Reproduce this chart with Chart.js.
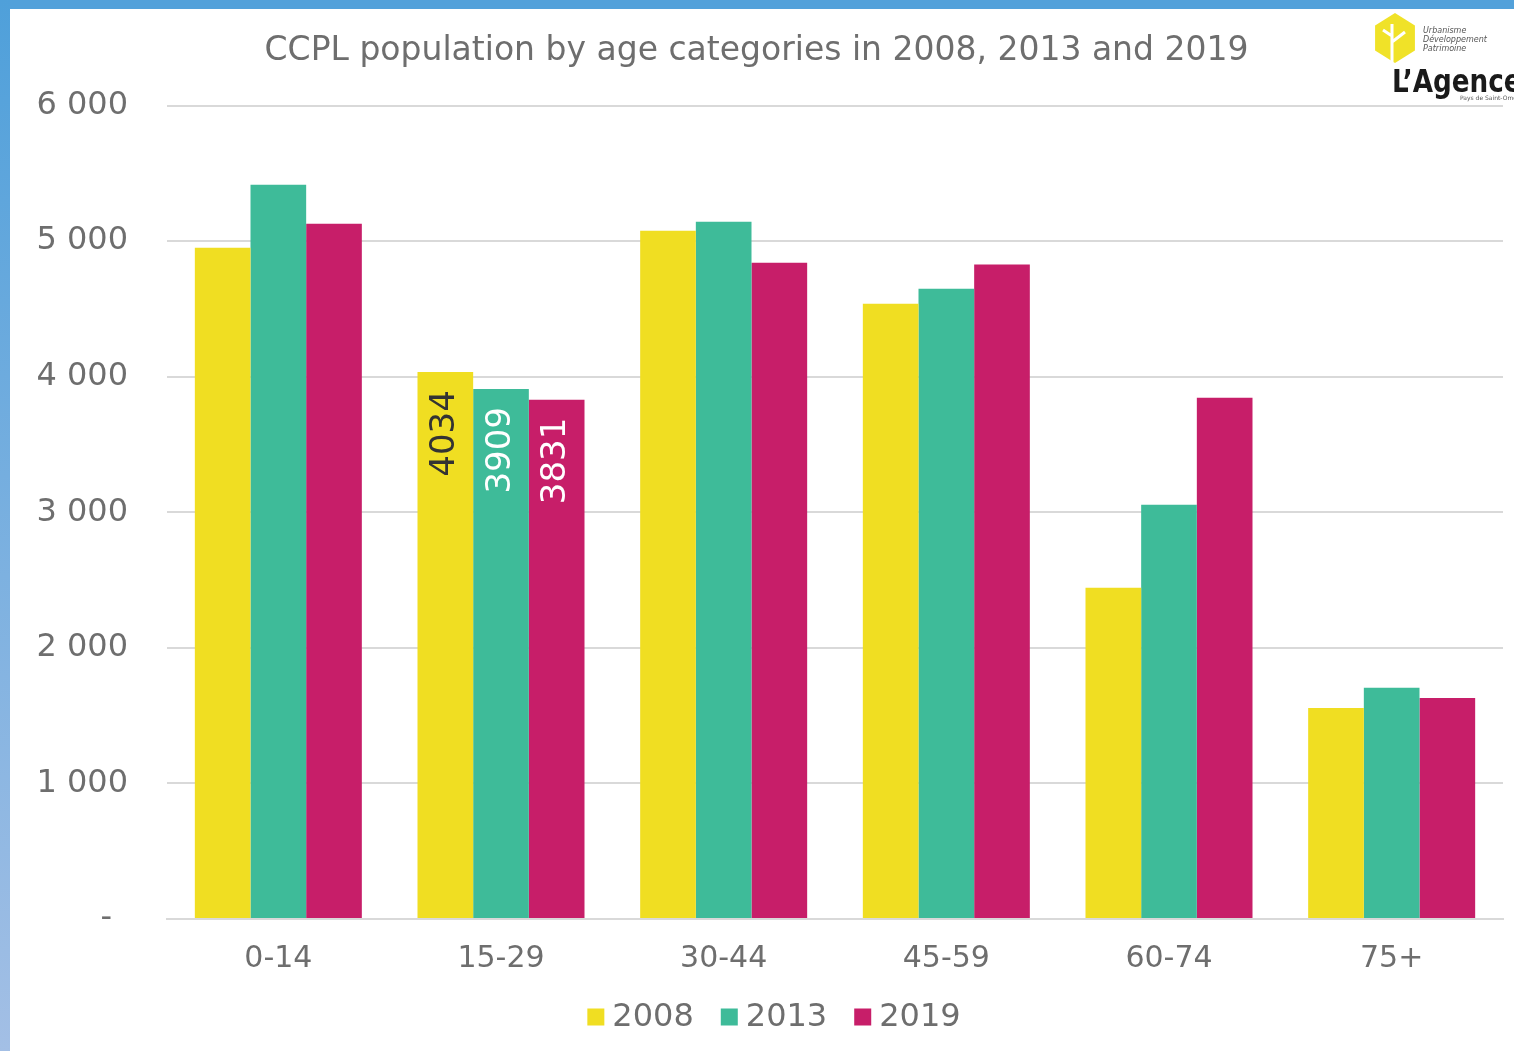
<!DOCTYPE html>
<html>
<head>
<meta charset="utf-8">
<script src="https://cdn.jsdelivr.net/npm/chart.js@4.4.1/dist/chart.umd.min.js"></script>
<style>
  html, body { margin: 0; padding: 0; }
  body { width: 1514px; height: 1051px; overflow: hidden; background: linear-gradient(#4fa0da, #a3bfe5); position: relative; }
  #wrap { position: absolute; left: 10px; top: 9px; width: 1504px; height: 1042px; background: #fff; }
  #wrap::before { content: ''; position: absolute; left: 0; top: -9px; width: 1504px; height: 9px; background: #53a1da; }
</style>
</head>
<body>
<div id="wrap"><canvas id="chart" width="1504" height="1042"></canvas></div>
<script>
const categories = ['0-14', '15-29', '30-44', '45-59', '60-74', '75+'];
const years = ['2008', '2013', '2019'];
const pop2008 = [4952, 4034, 5077, 4539, 2443, 1557];
const pop2013 = [5417, 3909, 5144, 4649, 3055, 1705];
const pop2019 = [5129, 3831, 4841, 4827, 3845, 1631];
const yTicks = [0, 1000, 2000, 3000, 4000, 5000, 6000];
const colors = ['#f0de22', '#3ebb99', '#c71e69'];
const labelColors = ['#333333', '#ffffff', '#ffffff'];
const labelledCategory = '15-29';

const fontFamily = '"DejaVu Sans", sans-serif';
const grey = '#6e6e6e';

// values written inside the bars of one category, rotated
const barLabels = {
  id: 'barLabels',
  afterDatasetsDraw(chart) {
    const ctx = chart.ctx;
    const idx = categories.indexOf(labelledCategory);
    chart.data.datasets.forEach((ds, i) => {
      const bar = chart.getDatasetMeta(i).data[idx];
      ctx.save();
      ctx.translate(bar.x, bar.y + 18);
      ctx.rotate(-Math.PI / 2);
      ctx.font = '34px ' + fontFamily;
      ctx.fillStyle = labelColors[i];
      ctx.textAlign = 'right';
      ctx.textBaseline = 'middle';
      ctx.fillText(String(ds.data[idx]), 0, 0);
      ctx.restore();
    });
  }
};

// legend under the axis, tighter than the built-in one
const bottomLegend = {
  id: 'bottomLegend',
  afterDraw(chart) {
    const ctx = chart.ctx;
    const box = 17, gap = 8, spacing = 27, y = 1008;
    ctx.save();
    ctx.font = '32px ' + fontFamily;
    ctx.textBaseline = 'middle';
    ctx.textAlign = 'left';
    const widths = chart.data.datasets.map(ds => ctx.measureText(ds.label).width);
    let total = 0;
    widths.forEach((w, i) => { total += box + gap + w + (i ? spacing : 0); });
    let x = chart.width / 2 + 12 - total / 2;
    chart.data.datasets.forEach((ds, i) => {
      ctx.fillStyle = ds.backgroundColor;
      ctx.fillRect(x, y - box / 2, box, box);
      ctx.fillStyle = grey;
      ctx.fillText(ds.label, x + box + gap, y + 1);
      x += box + gap + widths[i] + spacing;
    });
    ctx.restore();
  }
};

// small logo in the top right corner
const logo = {
  id: 'logo',
  afterDraw(chart) {
    const ctx = chart.ctx;
    ctx.save();
    const cx = 1385, cy = 29, r = 25;
    ctx.beginPath();
    for (let k = 0; k < 6; k++) {
      const a = -Math.PI / 2 + k * Math.PI / 3;
      const px = cx + r * 0.92 * Math.cos(a);
      const py = cy + r * Math.sin(a);
      if (k === 0) ctx.moveTo(px, py); else ctx.lineTo(px, py);
    }
    ctx.closePath();
    ctx.fillStyle = '#f0e228';
    ctx.fill();
    ctx.strokeStyle = '#fff';
    ctx.lineWidth = 3;
    ctx.beginPath();
    ctx.moveTo(cx - 3, cy + 24); ctx.lineTo(cx - 3, cy - 14);
    ctx.moveTo(cx - 3, cy + 4); ctx.lineTo(cx + 10, cy - 6);
    ctx.moveTo(cx - 3, cy - 2); ctx.lineTo(cx - 12, cy - 8);
    ctx.stroke();
    ctx.fillStyle = '#555';
    ctx.font = 'italic 8px ' + fontFamily;
    ctx.textAlign = 'left';
    ctx.fillText('Urbanisme', 1413, 24);
    ctx.fillText('Développement', 1413, 33);
    ctx.fillText('Patrimoine', 1413, 42);
    ctx.fillStyle = '#1a1a1a';
    ctx.translate(1382, 83);
    ctx.scale(0.82, 1);
    ctx.font = 'bold 32px ' + fontFamily;
    ctx.fillText('L\u2019Agence', 0, 0);
    ctx.setTransform(1, 0, 0, 1, 0, 0);
    ctx.fillStyle = '#555';
    ctx.font = '6px ' + fontFamily;
    ctx.fillText('Pays de Saint-Omer', 1450, 91);
    ctx.restore();
  }
};

new Chart(document.getElementById('chart'), {
  type: 'bar',
  data: {
    labels: categories,
    datasets: years.map((y, i) => ({
      label: y,
      data: [pop2008, pop2013, pop2019][i],
      backgroundColor: colors[i],
      borderWidth: 0,
      categoryPercentage: 0.75,
      barPercentage: 1.0
    }))
  },
  options: {
    responsive: false,
    animation: false,
    devicePixelRatio: 1,
    layout: { padding: { left: 0, right: 11, top: 16, bottom: 60 } },
    plugins: {
      title: {
        display: true,
        text: 'CCPL population by age categories in 2008, 2013 and 2019',
        color: grey,
        font: { family: fontFamily, size: 33, weight: 'normal' },
        padding: { top: 7, bottom: 34 }
      },
      legend: { display: false },
      tooltip: { enabled: false }
    },
    scales: {
      x: {
        grid: { display: false },
        border: { color: '#d9d9d9', width: 2 },
        ticks: { color: grey, font: { family: fontFamily, size: 30 }, padding: 14 }
      },
      y: {
        min: 0,
        max: 6000,
        afterFit(scale) { scale.width = 157; },
        afterBuildTicks(scale) { scale.ticks = yTicks.map(v => ({ value: v })); },
        grid: { color: '#d9d9d9', lineWidth: 2, drawTicks: false },
        border: { display: false },
        ticks: {
          color: grey,
          font: { family: fontFamily, size: 32 },
          padding: 39,
          // accounting style: zero shown as a dash, set in a little
          callback: v => v === 0 ? '-\u2002' : String(v).replace(/\B(?=(\d{3})+$)/g, ' ')
        }
      }
    }
  },
  plugins: [barLabels, bottomLegend, logo]
});
</script>
</body>
</html>
